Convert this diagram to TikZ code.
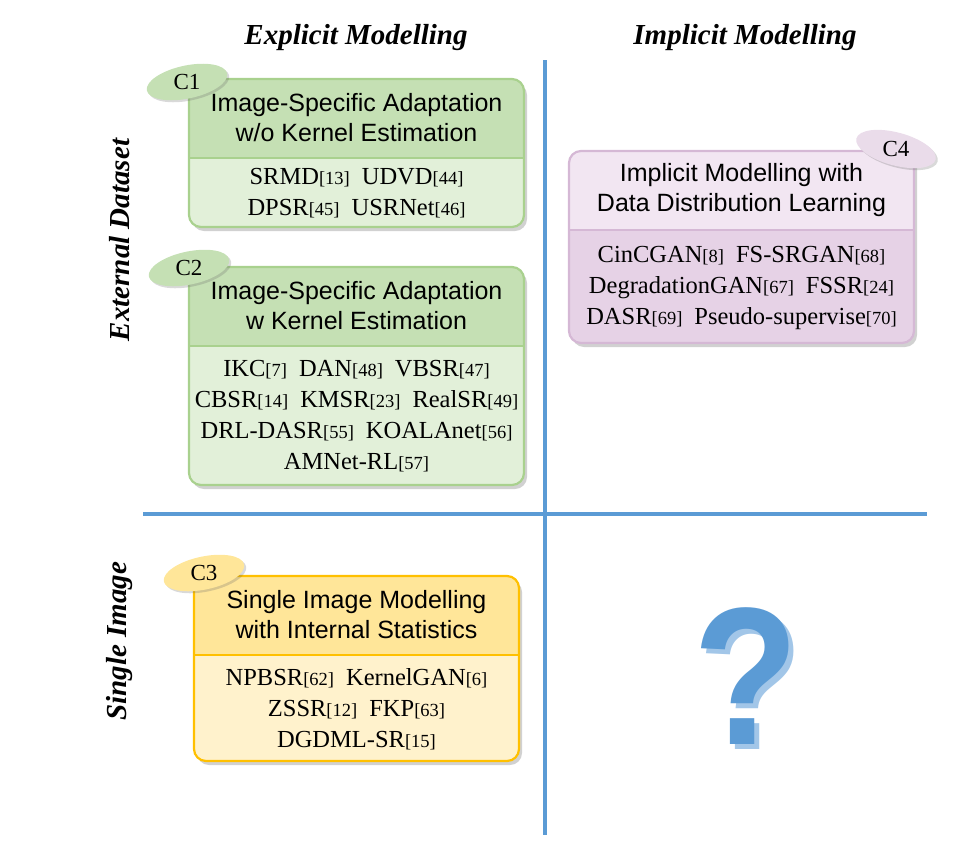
\documentclass[tikz,border=0pt]{standalone}
\usepackage{fontspec}
\setmainfont{Liberation Serif}
\setsansfont{Liberation Sans}
\usetikzlibrary{shapes,shadows}
\usetikzlibrary{positioning}

\definecolor{axisblue}{HTML}{5B9BD5}
\definecolor{qshade}{HTML}{A2C6E8}
\definecolor{greenline}{HTML}{A9D18E}
\definecolor{greenhead}{HTML}{C5E0B4}
\definecolor{greenbody}{HTML}{E2F0D9}
\definecolor{yellowline}{HTML}{FFC000}
\definecolor{yellowhead}{HTML}{FFE699}
\definecolor{yellowbody}{HTML}{FFF2CC}
\definecolor{purpleline}{HTML}{D5B8D5}
\definecolor{purplehead}{HTML}{F2E6F2}
\definecolor{purplebody}{HTML}{E6D2E6}
\definecolor{purpletag}{HTML}{EADCEA}

\newcommand{\refno}[1]{{\fontsize{18.5}{18.5}\selectfont[#1]}}
\newcommand{\gap}{\hspace{12pt}}

\tikzset{
    cat box/.style n args={3}{rectangle, draw=#1, line width=2.2pt, rounded corners=12pt, fill=#3,
      drop shadow={shadow xshift=3pt, shadow yshift=-4pt, opacity=0.3, fill=black!60},
      path picture={
        \fill[#2, sharp corners] (path picture bounding box.north west) rectangle ([yshift=-79pt]path picture bounding box.north east);
        \draw[#1, line width=2.2pt, sharp corners] ([yshift=-79pt]path picture bounding box.north west) -- ([yshift=-79pt]path picture bounding box.north east);
      }},
    tag/.style={ellipse, fill=#1, minimum width=82pt, minimum height=33pt, inner sep=0pt,
      drop shadow={shadow xshift=2pt, shadow yshift=-2pt, opacity=0.25, fill=black!60}},
}

\begin{document}
\begin{tikzpicture}[x=1pt, y=-1pt,
    axis/.style={draw=axisblue, line width=4.5pt},
    head/.style={font=\bfseries\itshape\fontsize{29}{29}\selectfont},
    title/.style={font=\sffamily\fontsize{25}{30}\selectfont, align=center, inner sep=0pt},
    body/.style={font=\rmfamily\fontsize{24.5}{31}\selectfont, align=center, inner sep=0pt},
    tag text/.style={font=\fontsize{23}{23}\selectfont, inner sep=0pt},
    qmark/.style={font=\sffamily\bfseries\fontsize{196}{196}\selectfont, inner sep=0pt, xscale=0.88}]

    \useasboundingbox (0,0) rectangle (979,860);

    % the two axes
    \coordinate (vtop) at (545,60);
    \coordinate (vbot) at (545,835);
    \coordinate (hleft) at (143,514);
    \coordinate (hright) at (927,514);
    \draw[axis] (vtop) -- (vbot);
    \draw[axis] (hleft) -- (hright);

    \node[head] (explicit) at (356,38) {Explicit Modelling};
    \node[head] (implicit) at (745,38) {Implicit Modelling};
    \node[head, rotate=90] (external) at (120,240) {External Dataset};
    \node[head, rotate=90] (single) at (120,641) {Single Image};

    % C1
    \node[cat box={greenline}{greenhead}{greenbody}, minimum width=335pt, minimum height=148pt] (c1) at (356.5,153) {};
    \node[title] (c1title) at ([yshift=-40pt]c1.north) {Image-Specific Adaptation\\w/o Kernel Estimation};
    \node[body] (c1body) at ([yshift=34.5pt]c1.south) {SRMD\refno{13}\gap UDVD\refno{44}\\DPSR\refno{45}\gap USRNet\refno{46}};

    % C2
    \node[cat box={greenline}{greenhead}{greenbody}, minimum width=335pt, minimum height=218pt] (c2) at (356.5,376) {};
    \node[title] (c2title) at ([yshift=-40pt]c2.north) {Image-Specific Adaptation\\w Kernel Estimation};
    \node[body] (c2body) at ([yshift=69.5pt]c2.south) {IKC\refno{7}\gap DAN\refno{48}\gap VBSR\refno{47}\\CBSR\refno{14}\gap KMSR\refno{23}\gap RealSR\refno{49}\\DRL-DASR\refno{55}\gap KOALAnet\refno{56}\\AMNet-RL\refno{57}};

    % C3
    \node[cat box={yellowline}{yellowhead}{yellowbody}, minimum width=325pt, minimum height=185pt] (c3) at (356.5,668.5) {};
    \node[title] (c3title) at ([yshift=-40pt]c3.north) {Single Image Modelling\\with Internal Statistics};
    \node[body] (c3body) at ([yshift=53pt]c3.south) {NPBSR\refno{62}\gap KernelGAN\refno{6}\\ZSSR\refno{12}\gap FKP\refno{63}\\DGDML-SR\refno{15}};

    % C4
    \node[cat box={purpleline}{purplehead}{purplebody}, minimum width=345pt, minimum height=192pt] (c4) at (741.5,247) {};
    \node[title] (c4title) at ([yshift=-40pt]c4.north) {Implicit Modelling with\\Data Distribution Learning};
    \node[body] (c4body) at ([yshift=56.5pt]c4.south) {CinCGAN\refno{8}\gap FS-SRGAN\refno{68}\\DegradationGAN\refno{67}\gap FSSR\refno{24}\\DASR\refno{69}\gap Pseudo-supervise\refno{70}};

    % category tags
    \node[tag=greenhead, rotate=12] (c1tag) at (187,82) {};
    \node[tag text] (c1label) at (c1tag) {C1};
    \node[tag=greenhead, rotate=12] (c2tag) at (189,268) {};
    \node[tag text] (c2label) at (c2tag) {C2};
    \node[tag=yellowhead, rotate=12] (c3tag) at (204,573) {};
    \node[tag text] (c3label) at (c3tag) {C3};
    \node[tag=purpletag, rotate=-15] (c4tag) at (896,149) {};
    \node[tag text] (c4label) at (c4tag) {C4};

    % question mark
    \node[qmark, text=qshade] (qshadow) at (751,681) {?};
    \node[qmark, text=axisblue] (qmain) at (746,676) {?};
\end{tikzpicture}
\end{document}
